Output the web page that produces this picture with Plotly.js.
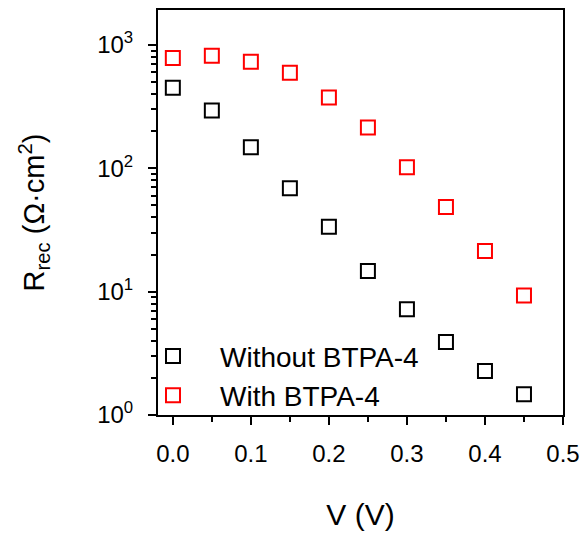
<!DOCTYPE html>
<html>
<head>
<meta charset="utf-8">
<script src="https://cdn.plot.ly/plotly-3.0.1.min.js"></script>
<style>body{margin:0;padding:0;background:#fff;}#chart{width:586px;height:540px;}</style>
</head>
<body>
<div id="chart"></div>
<script>
const voltage = [0.0, 0.05, 0.1, 0.15, 0.2, 0.25, 0.3, 0.35, 0.4, 0.45];
const withoutBTPA = [450, 294, 148, 69, 33.5, 14.7, 7.2, 3.9, 2.27, 1.47];
const withBTPA = [785, 815, 730, 594, 374, 214, 102, 48.5, 21.4, 9.3];
const seriesNames = ["Without BTPA-4", "With BTPA-4"];
const xTickVals = [0.0, 0.1, 0.2, 0.3, 0.4, 0.5];
const xTickText = ["0.0", "0.1", "0.2", "0.3", "0.4", "0.5"];
const yTickVals = [1, 10, 100, 1000];
const yTickText = ["10<sup>0</sup>", "10<sup>1</sup>", "10<sup>2</sup>", "10<sup>3</sup>"];

const font = "Liberation Sans, Arial, sans-serif";
const mk = (c) => ({symbol: "square-open", size: 14, color: c, line: {width: 2, color: c}});

const traces = [
  {x: voltage, y: withoutBTPA, name: seriesNames[0], type: "scatter", mode: "markers", marker: mk("#000000")},
  {x: voltage, y: withBTPA, name: seriesNames[1], type: "scatter", mode: "markers", marker: mk("#ff0000")}
];

const layout = {
  width: 586, height: 540,
  margin: {l: 158, r: 23, t: 10, b: 125},
  paper_bgcolor: "#fff", plot_bgcolor: "#fff",
  font: {family: font, color: "#000", size: 24},
  showlegend: true,
  legend: {x: -0.079, y: -0.013, xanchor: "left", yanchor: "bottom", bgcolor: "rgba(0,0,0,0)",
           font: {size: 28, family: font}, itemwidth: 84, tracegroupgap: 0},
  xaxis: {
    range: [-0.019, 0.5], showline: true, linewidth: 2, linecolor: "#000", mirror: true,
    ticks: "outside", ticklen: 8, tickwidth: 2, tickcolor: "#000",
    tickvals: xTickVals, ticktext: xTickText, showgrid: false, zeroline: false,
    tickfont: {size: 24}, ticklabelstandoff: 8,
    minor: {tickvals: [0.05, 0.15, 0.25, 0.35, 0.45], ticks: "outside", ticklen: 5, tickwidth: 2, tickcolor: "#000", showgrid: false},
    title: {text: "V (V)", font: {size: 30}, standoff: 38}
  },
  yaxis: {
    type: "log", range: [0, 3.283], showline: true, linewidth: 2, linecolor: "#000", mirror: true,
    ticks: "outside", ticklen: 8, tickwidth: 2, tickcolor: "#000",
    tickvals: yTickVals, ticktext: yTickText, showgrid: false, zeroline: false,
    tickfont: {size: 24}, ticklabelstandoff: 10,
    minor: {tickvals: [2,3,4,5,6,7,8,9,20,30,40,50,60,70,80,90,200,300,400,500,600,700,800,900], ticks: "outside", ticklen: 5, tickwidth: 2, tickcolor: "#000", showgrid: false},
    title: {text: "R<sub>rec</sub> (Ω·cm<sup>2</sup>)", font: {size: 29}, standoff: 44}
  }
};

Plotly.newPlot("chart", traces, layout, {displayModeBar: false, staticPlot: true});
</script>
</body>
</html>
